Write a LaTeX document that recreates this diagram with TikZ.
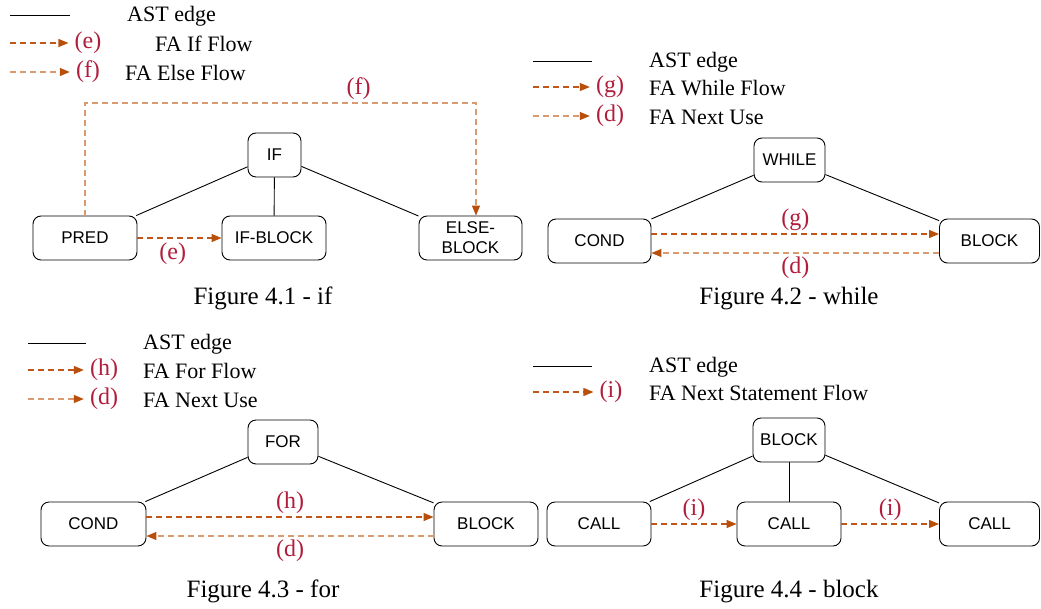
\documentclass[tikz,border=0pt]{standalone}
\usepackage{fontspec}
\setmainfont{Liberation Serif}
\setsansfont{Liberation Sans}
\usetikzlibrary{arrows.meta,calc}
\definecolor{flowdark}{HTML}{C0561A}
\definecolor{flowlight}{HTML}{D99A70}
\definecolor{tipcol}{HTML}{B8500C}
\definecolor{lblred}{HTML}{B01E3C}
\tikzset{
  ast/.style   ={draw, rounded corners=8pt, line width=0.9pt, align=center,
    font=\sffamily\fontsize{17}{20}\selectfont,
    minimum height=44pt, minimum width=104pt, inner sep=2pt},
  root/.style  ={ast, minimum width=71pt},
  edge/.style  ={line width=0.9pt},
  fadark/.style={-{Triangle[length=10pt,width=8pt,color=tipcol]},
    draw=flowdark, line width=1.2pt, dash pattern=on 6pt off 4pt},
  falight/.style={fadark, draw=flowlight},
  lbl/.style   ={text=lblred, font=\fontsize{24}{26}\selectfont, inner sep=1pt},
  legtext/.style={font=\fontsize{22}{26}\selectfont, anchor=west, inner sep=0pt},
  caption/.style={font=\fontsize{25}{30}\selectfont}
}
\begin{document}
\begin{tikzpicture}[x=1pt, y=-1pt]
    \useasboundingbox (0,0) rectangle (1041,608);

    % ---------- Figure 4.1 (if) ----------
    \coordinate (k1a) at (10,15);
    \coordinate (k1b) at (70,15);
    \coordinate (k1e) at (10,43);
    \coordinate (k1f) at (10,72);
    \node[lbl] (k1lble) at (88,43) {(e)};
    \node[lbl] (k1lblf) at (88,72) {(f)};
    \node[legtext] at (127,16) {AST edge};
    \node[legtext] at (155,44) {FA If Flow};
    \node[legtext] at (125,73) {FA Else Flow};
    \draw[edge] (k1a) -- (k1b);
    \draw[fadark, shorten >=5pt] (k1e) -- (k1lble);
    \draw[falight, shorten >=5pt] (k1f) -- (k1lblf);

    \node[root, minimum width=53pt] (if) at (274.5,155) {IF};
    \node[ast] (pred) at (85,238) {PRED};
    \node[ast] (ifblock) at (274,238) {IF-BLOCK};
    \node[ast, minimum width=103pt] (elseblock) at (470.5,238) {ELSE-\\BLOCK};

    \draw[edge] (if) -- (pred);
    \draw[edge] (if) -- (ifblock);
    \draw[edge] (if) -- (elseblock);
    \coordinate (fturn) at (476,103);
    \draw[falight] (pred.north) |- (fturn)
      node[lbl, pos=0.85, above=2pt] {(f)} -- (fturn |- elseblock.north);
    \draw[fadark] (pred) -- (ifblock) node[lbl, pos=0.42, below=3pt] {(e)};

    \node[caption] at (263,298) {Figure 4.1 - if};

    % ---------- Figure 4.2 (while) ----------
    \coordinate (k2a) at (533,61);
    \coordinate (k2b) at (592,61);
    \coordinate (k2g) at (533,87);
    \coordinate (k2d) at (533,116);
    \node[lbl] (k2lblg) at (610,87) {(g)};
    \node[lbl] (k2lbld) at (610,116) {(d)};
    \node[legtext] at (649,62) {AST edge};
    \node[legtext] at (649,88) {FA While Flow};
    \node[legtext] at (649,117) {FA Next Use};
    \draw[edge] (k2a) -- (k2b);
    \draw[fadark, shorten >=5pt] (k2g) -- (k2lblg);
    \draw[falight, shorten >=5pt] (k2d) -- (k2lbld);

    \node[root] (while) at (789.5,160) {WHILE};
    \node[ast, minimum width=103pt] (cond2) at (599.5,241) {COND};
    \node[ast, minimum width=100pt] (block2) at (989.5,241) {BLOCK};

    \draw[edge] (while) -- (cond2);
    \draw[edge] (while) -- (block2);
    \draw[fadark] ([yshift=7pt]cond2.east) -- ([yshift=7pt]cond2.east -| block2.west)
      node[lbl, midway, above=2pt] {(g)};
    \draw[falight] ([yshift=-12pt]block2.west) -- ([yshift=-12pt]block2.west -| cond2.east)
      node[lbl, midway, below=2pt] {(d)};

    \node[caption] at (789,299) {Figure 4.2 - while};

    % ---------- Figure 4.3 (for) ----------
    \coordinate (k3a) at (28,343);
    \coordinate (k3b) at (86,343);
    \coordinate (k3h) at (28,370);
    \coordinate (k3d) at (28,399);
    \node[lbl] (k3lblh) at (104,370) {(h)};
    \node[lbl] (k3lbld) at (104,399) {(d)};
    \node[legtext] at (143,344) {AST edge};
    \node[legtext] at (143,371) {FA For Flow};
    \node[legtext] at (143,400) {FA Next Use};
    \draw[edge] (k3a) -- (k3b);
    \draw[fadark, shorten >=5pt] (k3h) -- (k3lblh);
    \draw[falight, shorten >=5pt] (k3d) -- (k3lbld);

    \node[root, minimum width=70pt] (for) at (283,442) {FOR};
    \node[ast, minimum width=105pt] (cond3) at (93.5,524) {COND};
    \node[ast] (block3) at (486,524) {BLOCK};

    \draw[edge] (for) -- (cond3);
    \draw[edge] (for) -- (block3);
    \draw[fadark] ([yshift=7pt]cond3.east) -- ([yshift=7pt]cond3.east -| block3.west)
      node[lbl, midway, above=2pt] {(h)};
    \draw[falight] ([yshift=-12pt]block3.west) -- ([yshift=-12pt]block3.west -| cond3.east)
      node[lbl, midway, below=2pt] {(d)};

    \node[caption] at (263,591) {Figure 4.3 - for};

    % ---------- Figure 4.4 (block) ----------
    \coordinate (k4a) at (533,366);
    \coordinate (k4b) at (592,366);
    \coordinate (k4i) at (533,392);
    \node[lbl] (k4lbli) at (611,392) {(i)};
    \node[legtext] at (649,367) {AST edge};
    \node[legtext] at (649,393) {FA Next Statement Flow};
    \draw[edge] (k4a) -- (k4b);
    \draw[fadark, shorten >=5pt] (k4i) -- (k4lbli);

    \node[root, minimum width=72pt] (block4) at (789,440) {BLOCK};
    \node[ast] (call1) at (599,524) {CALL};
    \node[ast] (call2) at (789,524) {CALL};
    \node[ast, minimum width=100pt] (call3) at (989.5,524) {CALL};

    \draw[edge] (block4) -- (call1);
    \draw[edge] (block4) -- (call2);
    \draw[edge] (block4) -- (call3);
    \draw[fadark] (call1) -- (call2) node[lbl, midway, above=2pt] {(i)};
    \draw[fadark] (call2) -- (call3) node[lbl, midway, above=2pt] {(i)};

    \node[caption] at (789,592) {Figure 4.4 - block};

\end{tikzpicture}
\end{document}
